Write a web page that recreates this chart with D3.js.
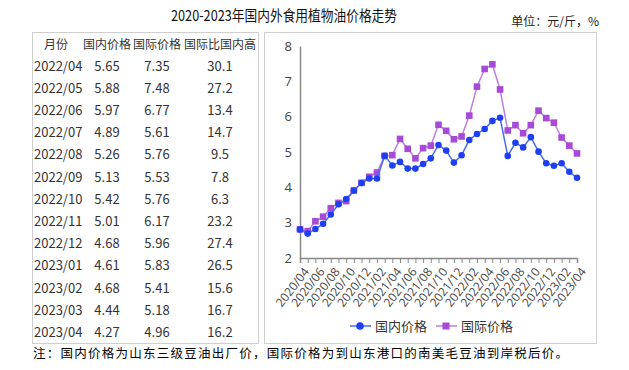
<!DOCTYPE html>
<html>
<head>
<meta charset="utf-8">
<script src="https://cdn.jsdelivr.net/npm/d3@7"></script>
<style>
  body { margin: 0; background: #fff; }
  svg { display: block; font-family: "Noto Sans CJK SC", "Noto Sans", sans-serif; }
</style>
</head>
<body>
<svg width="629" height="370"></svg>
<script>
// 月份（2020/04 - 2023/04）
const months = [
  "2020/04", "2020/05", "2020/06", "2020/07", "2020/08", "2020/09", "2020/10", "2020/11", "2020/12",
  "2021/01", "2021/02", "2021/03", "2021/04", "2021/05", "2021/06", "2021/07", "2021/08", "2021/09",
  "2021/10", "2021/11", "2021/12", "2022/01", "2022/02", "2022/03", "2022/04", "2022/05", "2022/06",
  "2022/07", "2022/08", "2022/09", "2022/10", "2022/11", "2022/12", "2023/01", "2023/02", "2023/03",
  "2023/04"
]
// 国内价格 元/斤
const domestic = [
  2.81, 2.69, 2.82, 2.97, 3.23, 3.52, 3.67, 3.91, 4.12,
  4.25, 4.25, 4.89, 4.62, 4.72, 4.53, 4.53, 4.66, 4.82,
  5.20, 5.04, 4.70, 4.91, 5.34, 5.51, 5.65, 5.88, 5.97,
  4.89, 5.26, 5.13, 5.42, 5.01, 4.68, 4.61, 4.68, 4.44,
  4.27
]
// 国际价格 元/斤
const international = [
  2.81, 2.76, 3.04, 3.17, 3.41, 3.56, 3.61, 3.91, 4.13,
  4.30, 4.42, 4.89, 4.91, 5.37, 5.09, 4.82, 5.11, 5.18,
  5.77, 5.60, 5.36, 5.44, 6.03, 6.85, 7.35, 7.48, 6.77,
  5.61, 5.76, 5.53, 5.76, 6.17, 5.96, 5.83, 5.41, 5.18,
  4.96
]
// 表格：国际比国内高 %
const tableMonths = months.slice(24)
const tableGap = [30.1, 27.2, 13.4, 14.7, 9.5, 7.8, 6.3, 23.2, 27.4, 26.5, 15.6, 16.7, 16.2]
const tableHeaders = ["月份", "国内价格", "国际价格", "国际比国内高"]
const yTicks = [2, 3, 4, 5, 6, 7, 8]
const xTickLabels = months.filter((m, i) => i % 2 === 0)

const blue = "#1f3ff5"
const blueLine = "#4a6cf2"
const purple = "#a84ad8"
const purpleLine = "#bf7de4"

const svg = d3.select("svg")

// 标题
svg.append("text")
  .attr("x", 284).attr("y", 21)
  .attr("text-anchor", "middle")
  .attr("font-size", 15)
  .attr("fill", "#111")
  .attr("textLength", 226).attr("lengthAdjust", "spacingAndGlyphs")
  .text("2020-2023年国内外食用植物油价格走势")

svg.append("text")
  .attr("x", 599).attr("y", 26)
  .attr("text-anchor", "end")
  .attr("font-size", 12)
  .attr("fill", "#222")
  .text("单位：元/斤，%")

// 表格
svg.append("rect")
  .attr("x", 32.5).attr("y", 32.5).attr("width", 226).attr("height", 311)
  .attr("fill", "none").attr("stroke", "#cfcfcf")

const colX = [56, 107, 157, 220]
svg.append("g").selectAll("text")
  .data(tableHeaders)
  .join("text")
  .attr("x", (d, i) => colX[i])
  .attr("y", 48.5)
  .attr("text-anchor", "middle")
  .attr("font-size", 12)
  .attr("fill", "#333")
  .text((d) => d)

const rowY = (i) => 70.5 + i * 22.2
const rows = svg.append("g")
  .selectAll("g")
  .data(tableMonths)
  .join("g")
  .attr("font-size", 13)
  .attr("fill", "#333")

rows.append("text").attr("x", 34).attr("y", (d, i) => rowY(i)).text((d) => d)
rows.append("text").attr("x", colX[1]).attr("y", (d, i) => rowY(i))
  .attr("text-anchor", "middle").text((d, i) => domestic[24 + i].toFixed(2))
rows.append("text").attr("x", colX[2]).attr("y", (d, i) => rowY(i))
  .attr("text-anchor", "middle").text((d, i) => international[24 + i].toFixed(2))
rows.append("text").attr("x", colX[3]).attr("y", (d, i) => rowY(i))
  .attr("text-anchor", "middle").text((d, i) => tableGap[i].toFixed(1))

// 图表框
svg.append("rect")
  .attr("x", 264.5).attr("y", 32.5).attr("width", 332).attr("height", 311)
  .attr("fill", "none").attr("stroke", "#cfcfcf")

const x = d3.scalePoint().domain(months).range([300, 577])
const y = d3.scaleLinear().domain([2, 8]).range([258, 46])

const g = svg.append("g")

// y 轴
const yAxis = g.append("g")
  .attr("transform", "translate(300,0)")
  .call(d3.axisLeft(y).tickValues(yTicks).tickFormat(d3.format("d")).tickSize(0).tickPadding(8))
yAxis.select(".domain").attr("stroke", "#888").attr("stroke-width", 1.5)
yAxis.selectAll("text").attr("font-size", 13).attr("fill", "#444")
  .attr("font-family", "'Open Sans', sans-serif")

// x 轴
const xAxis = g.append("g")
  .attr("transform", "translate(0,258)")
  .call(d3.axisBottom(x).tickSizeOuter(0).tickSize(5)
    .tickFormat((d) => (xTickLabels.includes(d) ? d : "")))
xAxis.select(".domain").attr("stroke", "#888").attr("stroke-width", 1.5)
xAxis.selectAll(".tick line").attr("stroke", "#888")
xAxis.selectAll("text")
  .attr("font-size", 12)
  .attr("fill", "#444")
  .attr("font-family", "'Open Sans', sans-serif")
  .attr("text-anchor", "end")
  .attr("dx", 0).attr("dy", 0)
  .attr("transform", "translate(3,9) rotate(-52)")

const line = d3.line().x((d, i) => x(months[i])).y((d) => y(d))

// 国际价格
g.append("path").datum(international)
  .attr("fill", "none").attr("stroke", purpleLine).attr("stroke-width", 1.5)
  .attr("d", line)
g.append("g").selectAll("rect")
  .data(international)
  .join("rect")
  .attr("x", (d, i) => x(months[i]) - 3.3)
  .attr("y", (d) => y(d) - 3.3)
  .attr("width", 6.6).attr("height", 6.6)
  .attr("fill", purple)

// 国内价格
g.append("path").datum(domestic)
  .attr("fill", "none").attr("stroke", blueLine).attr("stroke-width", 1.5)
  .attr("d", line)
g.append("g").selectAll("circle")
  .data(domestic)
  .join("circle")
  .attr("cx", (d, i) => x(months[i]))
  .attr("cy", (d) => y(d))
  .attr("r", 3.3)
  .attr("fill", blue)

// 图例
const legend = svg.append("g").attr("transform", "translate(0,326)")
legend.append("line").attr("x1", 350).attr("x2", 371).attr("stroke", blueLine).attr("stroke-width", 1.5)
legend.append("circle").attr("cx", 360).attr("r", 3.8).attr("fill", blue)
legend.append("text").attr("x", 375).attr("y", 4.5).attr("font-size", 13).attr("fill", "#333").text("国内价格")
legend.append("line").attr("x1", 436).attr("x2", 457).attr("stroke", purpleLine).attr("stroke-width", 1.5)
legend.append("rect").attr("x", 442.5).attr("y", -3.5).attr("width", 7).attr("height", 7).attr("fill", purple)
legend.append("text").attr("x", 461).attr("y", 4.5).attr("font-size", 13).attr("fill", "#333").text("国际价格")

// 注
svg.append("text")
  .attr("x", 33).attr("y", 358)
  .attr("font-size", 12.5)
  .attr("fill", "#000")
  .attr("textLength", 535).attr("lengthAdjust", "spacing")
  .text("注：国内价格为山东三级豆油出厂价，国际价格为到山东港口的南美毛豆油到岸税后价。")
</script>
</body>
</html>
